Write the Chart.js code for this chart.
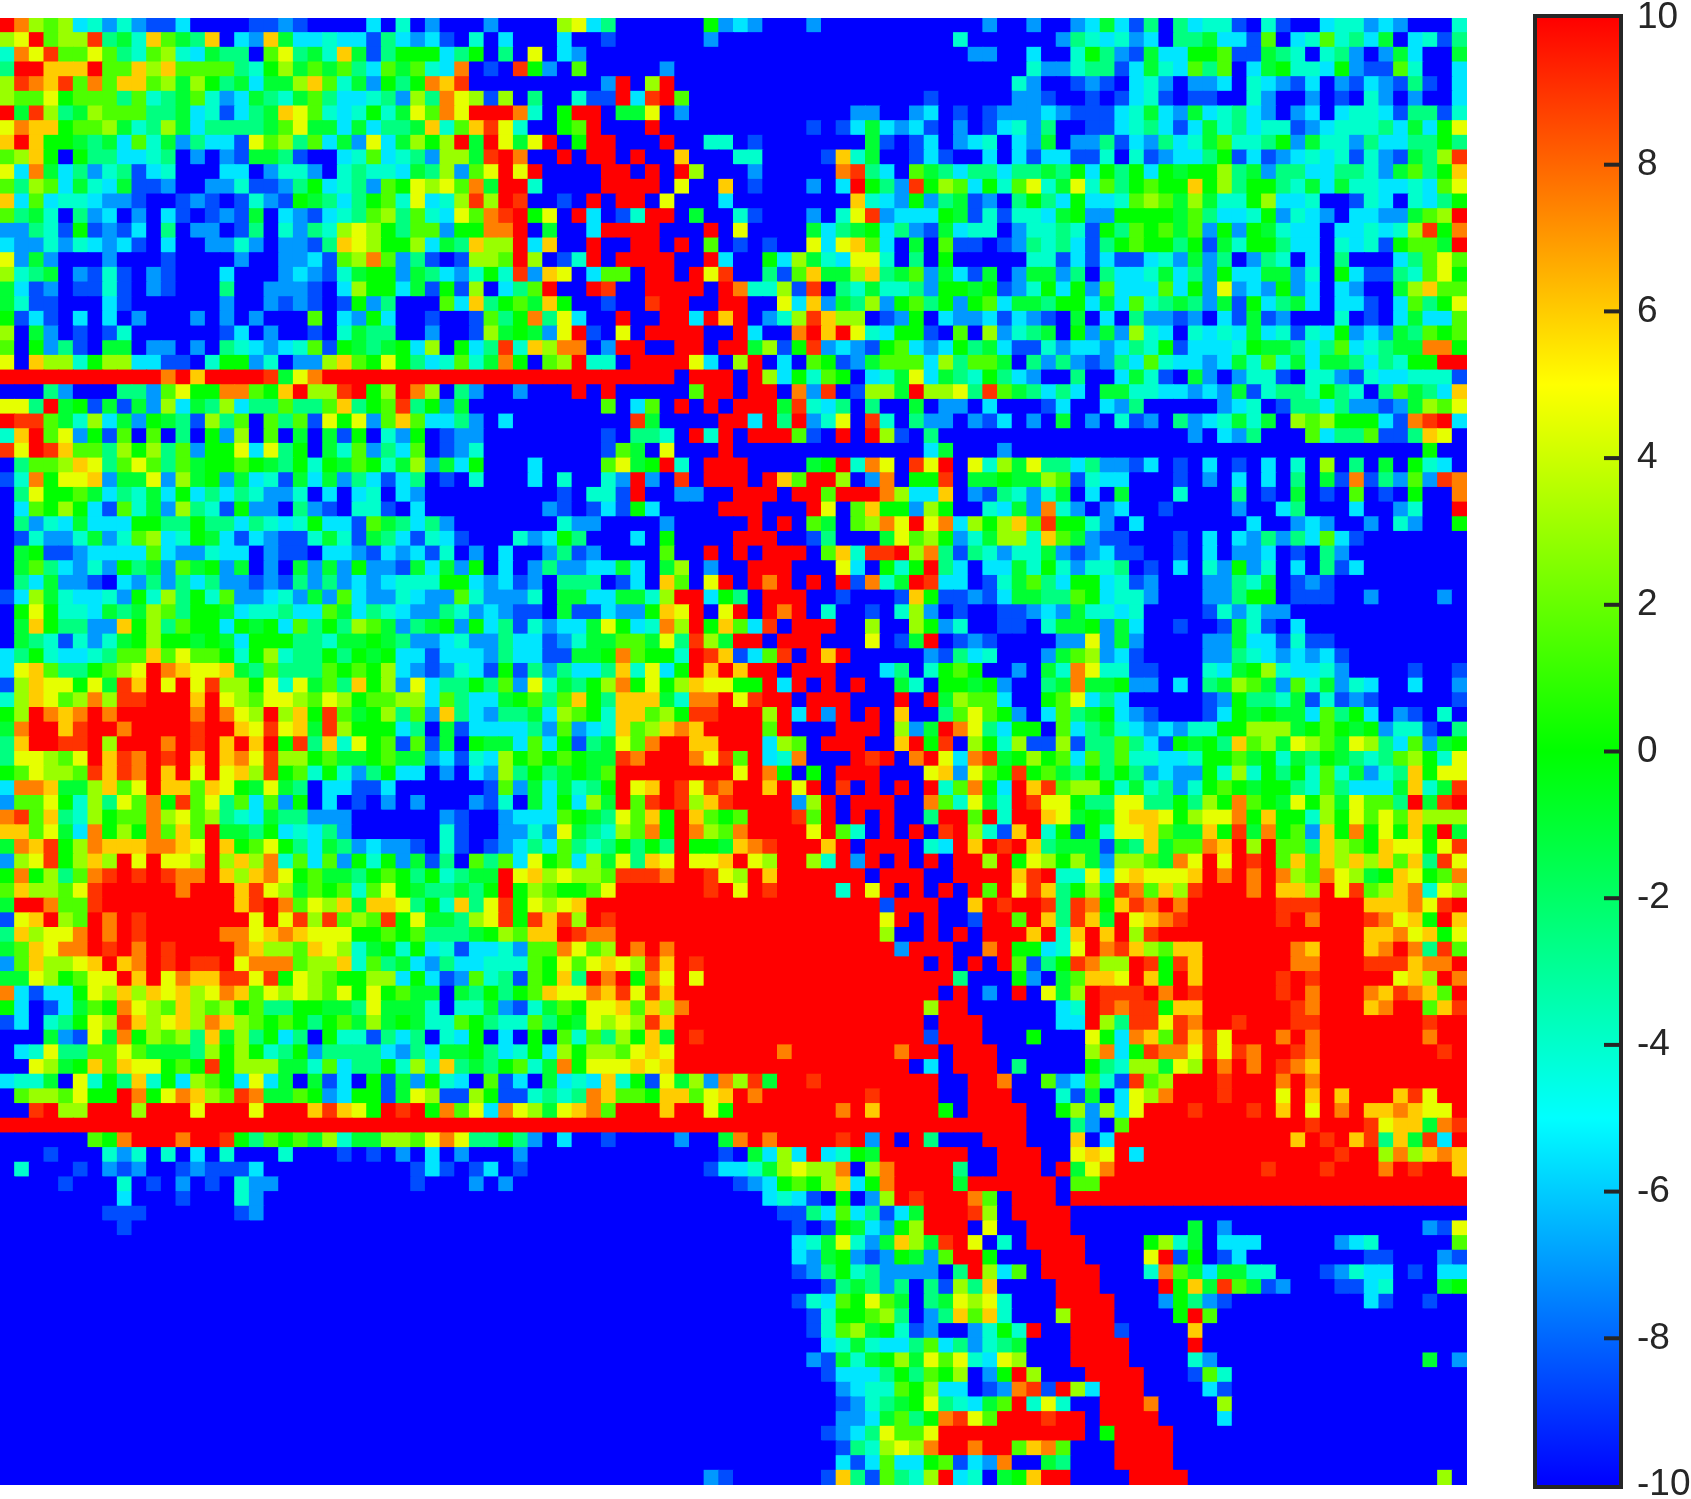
<!DOCTYPE html>
<html>
<head>
<meta charset="utf-8">
<title>Heatmap</title>
<script src="https://cdn.jsdelivr.net/npm/chart.js@4/dist/chart.umd.min.js"></script>
<style>
  html, body { margin: 0; background: #fff; overflow: hidden; }
  #map { position: absolute; left: 0; top: 18px; }
  #bar { position: absolute; left: 1530px; top: 0; }
</style>
</head>
<body>
<canvas id="map" width="1467" height="1467"></canvas>
<canvas id="bar" width="161" height="1499"></canvas>
<script>
// one character per cell, each one is a level
const levelKeys = '.bcdefghijklmn#'
const levelValues = [-10, -8.5, -7, -5.5, -4, -2.5, -1, 0, 1.5, 3, 4.5, 6, 7.5, 9, 10]

const colorValues = [-10, -5, 0, 5, 10]
const colorRgb = [[0, 0, 255], [0, 255, 255], [0, 255, 0], [255, 255, 0], [255, 0, 0]]
const barTicks = [-10, -8, -6, -4, -2, 0, 2, 4, 6, 8, 10]

// rows 0-32, columns 0-32 / 33-65 / 66-99
const topLeft = [
'#mjijdececbbd....bbcb....d.e.c...',
'jk#ijjnfgeligfl.dclgddeddbfdcdb.e',
'emkniikifeijedgff.ikfgelgbfhhhdfh',
'f##lll#iiljliiiifehjgigifdigiedm.',
'jnmlnimillijgjhfgdggjliegchfhmln.',
'jiikhiiifiefgiecdgfegifddefcjfmkj',
'#gnjfgjiiiffgdebdfglkiedehegkimk#',
'kmllhiijgefjgdffffgikggdgdffgleil',
'l#lhhgfgdiegcfddbkijfidgckdgjhj#g',
'ijlh.hffddef.c.cbggfb..deidefcjjg',
'kdmgdfcefbde...dd.ceec.efeedgfjci',
'ifjidgedgbbc..ccebbcfhdefcihkjkim',
'ldideedccb..bcb.becbhgfdfhiekdejn',
'ifge.fcd.c.db.bcbg.dcbdefijfiedki',
'ccfebhbcbd.f.cc.bf.ecfejkjhfiichh',
'dccecedcdb.d..ccec.ccbflkjhhjdgfl',
'kcgc...c...b....c..ccdbijmicfb.bj',
'jefg.cbeb.cb...d...cdcbeghhcgfdce',
'gdbc.bbeb.cb...f..cccb.djhhdgbhbj',
'gebb...db......c..cbcb.bhcf...idl',
'hbdb.d.d.c...c.c.c...i.dchd..b..b',
'j.gc.b.be......bd.c..b.egff..c..b',
'i.hcfb.gg.cc.c.fedcdeibhgfghdj.hd',
'k.ljjehjjddbb.ehhce.ccjlihkhfdeie',
'###########m#l####ngkm###########',
'...fc...ffcikhhmmihl#jjn#hj#mj.fc',
'kkf#ghbgbgcjdgfjdffiffilfhinfhcg.',
'#nnigejdgchgfbjfi.ifibkhkciliddfc',
'el#ikchbi.i.f.hcj.i.g.gbh.ech.bcc',
'nk#nliifjhjfichhkdkfh.geicfdi.bce',
'.fiijlkfikifighhihgfhehgihegjcgdh',
'bemhkklcggkcjghcgdebgdgcfdbdf.b.e',
'.fkhhigdfegdhdfdfecce.d.de.dc....'
]

const topMid = [
'c....jkdf......hcdc...c..........',
'.d...d..b......c................e',
'.f.k.dc..........................',
'b.nhc.i.....c....................',
'........c#.j#....................',
'bj.f..ebb#dn#i................b..',
'##me.h##.ggk.c...........cc..cd.b',
'nke..hi#...#..........b.bdgdcdb.c',
'#kgk#.h##...#..ee.b.......gb.bd.c',
'n#m..#.##.#..l...ee....bleg..bdb.',
'k#k#....##.#.#j...c.....mnfd.igfd',
'g##e....####.k..l.b...c.d#hfcnhji',
'j#n..b.#.##.k...d........ledchcfg',
'mn#hk.#d.be##.g..eb...c.ekncdddhg',
'mm#.g..d####...#.k....gdfghdfcbgd',
'jj#dl..#..##.#.i.b.b..kdklid.g.ib',
'ji#j.be#.####..#d..hdjgedkke.f.h.',
'henclk.dii.##.#kn..fbilggjlfgicgd',
'.dfi#..#n..####.#meejbn.fegeefchh',
'fhiglh..b..n##..##..kdlcgfjchifhc',
'ifhmfkd..#..##d#l#.cejnljj.bch.dc',
'jghgck#b.k.####..#d..m#l#kedhhb.i',
'fneljmm.c##..##.##gjbhncdcbhidcdh',
'gmh.ij#ee.####kd.j#.d.ihbcgiiidjf',
'#############.###.#jdheih.degkdgf',
'..c...#.#.....i##.##.mcn.bjjg#jjk',
'........i.di.#.#.###gnedf.f..g.cc',
'.d........ng....##d#f#cek.ne.fcc.',
'........b.ffe.#e#.###ib.#.#jb.f..',
'........big.k...#.............dg.',
'...d....ikgh#e.###....gh#emk.nk#.',
'...d.e..ec#c.n.###.#li##j.cm.hhn.',
'.....b.eeb#..cc..###.##i###mjddl.'
]

const topRight = [
'.c..c..cdgdbf.fdeeb.eb..deecdc...e',
'......cfedecd.ffgddbi.deiefdg.debf',
'cc..d..ehfcbgddhhibbgfe.efc.cgd..g',
'....ecceffbdgedifi.dgheedhcbbie..d',
'...ec..bcb.dec.ccd.edcbd.cbdcbfb.d',
'...ccb..b.bdeb.bb..ec..c.b.ec.c..d',
'.bcccdcbbbdegdcgdefdc.cd.deedbffbe',
'.bdecf..bbdefdbdgefdeebcdeeefdgdhk',
'de.dcg.ccfbdcfdegieefhcgeecfddffhf',
'.d.dbddbbe.ebcddfhbdbcdedebecbgfjn',
'ffdffgfhdhfhdhghhjfgcffddffecgifhl',
'dheikegkeifhihhlhjfhhfegdgeeddedik',
'bc.fhfdhddeijigjgeehjdde..bed.edfh',
'bebeedghcchhhhgifddehcedc.ddccgij#',
'ee.ceefebhfihigichchgedd.ddedejnhm',
'b.bcfefdbfhihhfhbgehhfdd.edebhiig#',
'....eebdbdbbdecgcf.cfe.d.f...dfiki',
'bg.cggcf.fddegdfchddggce.hdbbfeikh',
'ghbcehdhcidddidhckcdchcd.dc..gjlii',
'hidggfhhdgdiefgfcgbhdfgd.ddb.difhk',
'cdbdcb.g.d.fccbc.dbgbc...e.b.dgddi',
'.jcefg.hcgcjed.ededgdebedhcdcgfihi',
'fgdbbecddcdfehbdddehggfdfidefggmmh',
'iig.fcfcbcfdieddcdgeiegdggfdfehh##',
'ehfdc..f..dgeb.gc.ceeb.eecbeddeeeb',
'fnigfdfd.ggeeddcdcgbeffehfe.figfdl',
'.d...bd..dcf.....cde.bffdfccbcgjik',
'cbd.c.g.c.ebc.fcdegeg.jijhhhdbmn#d',
'...............c.dcf...idffibbflk.',
'..c............................h..',
'kejgkffdfccbd.b.d.b.d.e.j.f.g.hed.',
'gghggjibedd...b.c.d.d.f.gbmbfcicnm',
'cbfeceg.d.g...e...f.b.g.b.i.b.h..m'
]

// rows 33-65
const midLeft = [
'.dihjhdbiegcjfebhcc.fcb.eeb.d....',
'.fcedgdddhhffhffdfedehddbigfdfc..',
'.beccegceijdehgdbdcbbegebgfdbedb.',
'.ghbbcddddidccedd.cbb.ddcbdcdbe.c',
'.gifdcechfgcighcg.c.gcgchccbgdgch',
'.fdgccb.dcfcfdfccbcbfcfcdcdeeehhd',
'bdjgeddechejfheiccdecgcidccedccie',
'.hkheedgfgjifhhgdeefddigdfedccfec',
'.glhffcclhjfihhdhghdifhfjigcfghch',
'.gfebeceghjhhghgdhhhffegghgfccdec',
'dfheddefiilikiihehjeffhfhghddbddd',
'dkliffhijk#mlkklgfifffihihjdcbced',
'bjlkkhkgnl#k#knjjhkekgiflhjckdffh',
'ejlkijmjnn###l#kjikkjikjhiijjdifd',
'hj#mlm#m#####m#mkj#jlhnighjficlfd',
'gm##ln##m####n##lknklgnjhhhdf.gbd',
'fl##nn#j###m#n#l#l#hnflekhibibg.h',
'fkkjik#lnm#n#l#lmknjjhigghiggcdbe',
'hikjjinlnm#l#k#kljnhiehecfhdd.c.d',
'dmmlggjlik#llilkhgkgf.ddbbd......',
'ciikhejfkimhnikfidich.d.b.c.c...c',
'mnilfejhiimjkijfedgffccc......cb.',
'llikgdmhjhmili#ggfhdedfc......eb.',
'gmlnhjmlllmmlk#lhikhfdgfcdccb.eb.',
'cjknhjlj#k#kkj#jljmeidichehcgbf.i',
'hmhjfimn#n#nmm#ljlmkhiggfhihfhefg',
'iljjikn#####m###lnkjgihieikhgffgf',
'g##miin#########ln#mikjlgllkfhelf',
'bkl#ji#m#n#######k#knjnijinhkggfj',
'fljkkm#m#n#####mmklmlkkkhhihifffg',
'gilkmm#n#m#n####mljjilkjeghehdebd',
'ciljjkl#lm#n#nn#kmmmijjleifgdcfdd',
'ggkjhikk#l#kmllnnknhkjihhjjdhdbci'
]

const midMid = [
'....cb.bdbhd....###...#k.ilhhcjh.',
'.....ecc....c.....#.#.ig.ijmk#kmd',
'..ecdhf...d.h....###..bf...gkijhc',
'.d..cfbc....i..#.#.###.ilenn#jmfb',
'.d.cfccddgd.gj.c..###...kd.heh#fd',
'cdbc.fff.bd.li.k#.#m#.#.#bmeg#ndd',
'ccce.ggddggej##dhf.###..b...blhbb',
'dcbb.gbbdcchlk#.k#.#m#.e..b.ejc.b',
'dfbecddgkhdemj#hlidn.###..j..jhce',
'cfddbceggiigkfnjg##.###...k.bg#.b',
'cfddbbgghmihhe#nlbdin.#l#.....cbf',
'bhbfcfddflekdh#l#l##.###...df.ehi',
'fickegfhjmhkhjlkkhh#d#.#.#..ge.hh',
'dghifilhflllgemm#kn##.###...#.#gj',
'cffgdjihellijhnn###j#d#c#.#.l..fi',
'dddfcicdelijlml####i#...###.jcg#m',
'ggdidhbfgkim##ll###dji.###..l#hn.',
'djhihihggnm###mkni#dem...#n#.m#kd',
'cjfhfghgi########k#mh.h.###...klc',
'bicgdgefh#kl#nknm##l#k#.n.#.#.#ei',
'be.gdhdjg#in#njln####cj#.###..mie',
'.cdddihgfkilh#lihi###ni#.#.#..f##',
'.cceckgfejimh#mjim####k#ie.#.#.n#',
'bcdfdifefhfhf#hhglmn###l#.###.ed#',
'fidkhidjgkflk#kkl#kj##je#c#.#.#.#',
'g#kljkjjinnnm##nkj#l######.###..#',
'h#hjihhik######n#k#n####e#k#.#.#.',
'knhkjkl####################b###..',
'knhnlnj#n##################k#.#..',
'hjill#nmm##################j..#.#',
'deciimkij#m#m###############c###.',
'eeeihkiklkjnl#n###############.#.',
'efbihlf#m#hmk#k#################f'
]

const midRight = [
'.edgcmec.cd..b....c..df...d..ce..#',
'jhjlinhhec.d.......d..cdc..c.ec..h',
'egjjeligcbb...b.d.dcfcfdidb.......',
'feceegcbcdbb..b.d.ccd.b.fc........',
'.ddgeheceef.b.d.echce.d.fbd.......',
'.begifdhhdebc...ccfeg.bcb.........',
'cbdggffihdeec...ccfhh.bbb..c....c.',
'..bbcdcgeede....bececc............',
'..bb.egghcgd..b..bgeb.d...........',
'cb....cckcgc....ccgddbebb.........',
'de...cgijcdb....ccfedcdcdb........',
'h..c.gemkeebb...edghjeddec....b..b',
'ghc..fgmgghcc.d.fgjigciegced..d..c',
'iid..hikdfd.....bchffegbebcb.....b',
'kihc.difghdcb...bdhghggdifhd.cb.e.',
'kfdhh.idfgedcdceehhjjjghihghceeb.f',
'jhejbbjbffifdbhghflijgkjigkjfdicgh',
'mnghjhidifieeddehhighegfhgfefijhek',
'kihnhigfhfhfcdcchejehfheiegceflhkk',
'mhd#lnijjhegefcehihghhfeifdddglegn',
'kge#nkkhffkkffhfjhmihgkhjgkiif#gn#',
'i#e##lkghgkllkhjkkmhlhhejhkikiljjj',
'jebl#ehbhekkligglhngmhiclhmhkhlh#g',
'l#n#lfgggbgflgiiml#j#iifljihlkkhkn',
'#j#hkjhjgcjjigmk#k#n#ililjljlilfnk',
'###ln#eekdklkkkl#m#m#mjimkjghlkhim',
'#i#knlfhjgnmiljn###m#llj#knijlmekj',
'l#n##nfnmhlnm#m######nnn###lllmkn#',
'b##i#lfnlg#klmn######n#m###nmklh#l',
'.###l#el#l#jn##############llmklhk',
'.m#hhdek#mnljill######ml###lm#mfni',
'#.#ibfhnmjj#nhnl######mm###nnnlmm#',
'...hc.gillk#lh#l#####n#n#####klj#m'
]

// rows 66-99, blue cells at the end of a row are left off
const lowLeft = [
'mdbddhkjljlkljkmlikjkjikhkhigg.gf',
'hd.bdgihmkjiljijhiffhhggfkggge.ee',
'bd.efhkjnljkljmljihihfhigjghgeeih',
'...gcbkgmhjijflgjfhdf.heebfdf.edh',
'.dekffiikigggfjhjhefhcffffdcfdggh',
'..kjghlilkkhihnhjjjggeidffhejelfg',
'deeg.kehflehdjihdkdg.gbd.hbgched.',
'.ijjikhh#mhkmljinmggihcdhhbgkjbbj',
'..n#jj###j###k###k###lnlkh#n#hmik',
'#################################',
'......ihm###m##nhfihigjeggjjikmkf',
'...b...ece.e.d.e...e...b.b.c.d.c.',
'.e...b.cbc..bcbbbd..........bdb.b',
'....b...e.b.c.b.ecc.........b...c',
'........d...b...ec',
'.......bbb......bc',
'........b',
'', '', '', '', '', '', '', '', '', '', '', '', '', '', '', '', ''
]

const lowMid = [
'hfhilkkmlnknl##################.#',
'gcbegihkkliljm################j##',
'feeifhgkjkjnl#################.##',
'.d.h.ieifjhlg#n###############b##',
'fdehdjhjjiklk#######m#######m##.#',
'fhiegmhkkklkl################.d.#',
'ibd.gdedlehbkgjcmjng##n########..',
'hbbefefmliihllikl#m#######n####..',
'dmkjgklmi###l##kh#######m#l####h.',
'#################################',
'fhfc.d..b....c..gm#m####n#c#.#f..',
'..c.............b.gdjd#dehg######',
'd.b............bddegjkjjm.jm####f',
'.c...............bcdhihjldhm####g',
'...................dedb.h.cj#n###',
'....................bbfdidfbdg###',
'.....................b.bhgdchj###',
'.....................degkecgljgn#',
'.....................dcghcbchgci#',
'.....................bcfhefcccc.f',
'.......................bfgfcf.fbj',
'.....................bedihkig.fgk',
'......................behhijf.cfl',
'......................beijghebc..',
'.......................degeddfidf',
'......................cbgeghjgkik',
'.......................bdddfhfihj',
'........................cdeeihjdd',
'........................bcefghkfe',
'........................ccdgifhmn',
'.......................bcdfkiik##',
'........................bfejkjm##',
'........................dbdiddhib',
'...............cb......blfbifej#d'
]

const lowRight = [
'.c.#.kgj#nnn#m#n#####n#m###mlnmli#',
'......de#nmnnhll######nm###lm##iln',
'#.....dd#jfnnknm##n###nn#######n##',
'#...h...khdmlinlnk###m#m#######m##',
'##......jmdhnmmknknm##nm########n#',
'##.f....hfejjgkj#m#m#nml##########',
'##m..icdiebnij###n###m#m##########',
'###...ebg.dkjm###n###k#l#l###lnk##',
'####..hjcjdk###n###n#l#k#m#llmlkk#',
'####...fc.i############n###nkllgmn',
'.###...l.d############l#n#lnflgnd#',
'..###..klk#d#############n##jmjlml',
'..###.#gkm##########n###n###m#n##l',
'######.ii#########################',
'mi.###.###########################',
'nj.####',
'.k..###........g.c.............cbk',
'k.e.####....hjeg.ddd.....cde.....i',
'#h...###....k#bh.bd........bb...cb',
'#jdi.####...emigdggee...bcedd.b.dd',
'fl....###....#hlgnigbc...bbde...gh',
'jke...####...chfcb.........db..b',
'ile...j###....h#i',
'cehe#..###b....l',
'cefg...####....#',
'edkj...####....ec..............g.c',
'.ch#j...####...bie',
'.bcmnb#jd###....db',
'dgi#eke..###m....j',
'ki###n##.####....d',
'########.h####',
'm##ilmi...####',
'dcm..gf...####',
'e.ghl##....####.................j.'
]

function joinRows(left, mid, right) {
  return left.map((row, i) =>
    row.padEnd(33, '.').slice(0, 33) +
    mid[i].padEnd(33, '.').slice(0, 33) +
    right[i].padEnd(34, '.').slice(0, 34))
}

const gridRows = [
  ...joinRows(topLeft, topMid, topRight),
  ...joinRows(midLeft, midMid, midRight),
  ...joinRows(lowLeft, lowMid, lowRight)
]

function colorFor(value) {
  let i = 0
  while (i < colorValues.length - 2 && value > colorValues[i + 1]) i++
  const t = (value - colorValues[i]) / (colorValues[i + 1] - colorValues[i])
  const c = colorRgb[i].map((v, k) => Math.round(v + (colorRgb[i + 1][k] - v) * t))
  return `rgb(${c[0]},${c[1]},${c[2]})`
}

const cells = []
const cellColors = []
gridRows.forEach((row, r) => {
  for (let c = 0; c < 100; c++) {
    cells.push({ x: c + 0.5, y: r + 0.5 })
    cellColors.push(colorFor(levelValues[levelKeys.indexOf(row[c])]))
  }
})

new Chart(document.getElementById('map'), {
  type: 'scatter',
  data: {
    datasets: [{
      data: cells,
      pointStyle: 'rect',
      // a bit over one cell wide so no white shows between neighbours
      pointRadius: 11.1,
      pointBorderWidth: 0,
      pointBackgroundColor: cellColors
    }]
  },
  options: {
    responsive: false,
    animation: false,
    events: [],
    layout: { padding: 0, autoPadding: false },
    plugins: { legend: { display: false }, tooltip: { enabled: false } },
    scales: {
      x: { type: 'linear', min: 0, max: 100, display: false },
      y: { type: 'linear', min: 0, max: 100, reverse: true, display: false }
    }
  }
})

// frame and the short inner tick marks of the colour bar
const barFrame = {
  id: 'barFrame',
  afterDraw(chart) {
    const { ctx, chartArea, scales } = chart
    ctx.save()
    ctx.strokeStyle = '#262626'
    ctx.lineWidth = 4
    barTicks.slice(1, -1).forEach(v => {
      const y = scales.y.getPixelForValue(v)
      ctx.beginPath()
      ctx.moveTo(chartArea.right - 15, y)
      ctx.lineTo(chartArea.right, y)
      ctx.stroke()
    })
    ctx.strokeRect(chartArea.left - 2, chartArea.top - 2, chartArea.right - chartArea.left + 4, chartArea.bottom - chartArea.top + 4)
    ctx.restore()
  }
}

new Chart(document.getElementById('bar'), {
  type: 'bar',
  data: {
    labels: [''],
    datasets: [{
      data: [[-10, 10]],
      barPercentage: 1,
      categoryPercentage: 1,
      borderWidth: 0,
      backgroundColor(context) {
        const { ctx, chartArea, scales } = context.chart
        if (!chartArea) return '#00f'
        const gradient = ctx.createLinearGradient(0, chartArea.bottom, 0, chartArea.top)
        colorValues.forEach((v, i) => {
          const c = colorRgb[i]
          gradient.addColorStop((v - scales.y.min) / (scales.y.max - scales.y.min), `rgb(${c[0]},${c[1]},${c[2]})`)
        })
        return gradient
      }
    }]
  },
  options: {
    responsive: false,
    animation: false,
    events: [],
    layout: { padding: { left: 7, top: 18, bottom: 14, right: 0 } },
    plugins: { legend: { display: false }, tooltip: { enabled: false } },
    scales: {
      x: { display: false },
      y: {
        position: 'right',
        min: -10,
        max: 10,
        afterBuildTicks(scale) { scale.ticks = barTicks.map(v => ({ value: v })) },
        afterFit(scale) {
          scale.width = 72
          scale.paddingTop = 0
          scale.paddingBottom = 0
        },
        grid: { display: false, drawTicks: false },
        border: { display: false },
        ticks: {
          autoSkip: false,
          padding: 18,
          color: '#262626',
          font: { family: '"Liberation Sans", Arial, sans-serif', size: 37, lineHeight: 1 },
          callback: v => String(v)
        }
      }
    }
  },
  plugins: [barFrame]
})
</script>
</body>
</html>
